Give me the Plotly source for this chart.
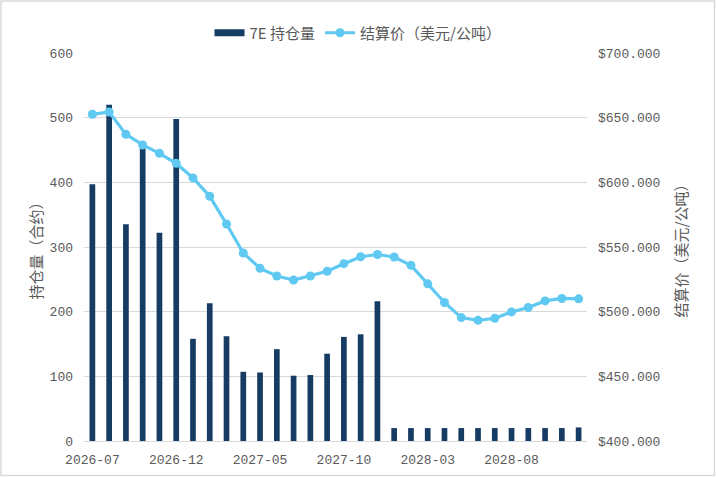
import plotly.graph_objects as go

months = ["2026-07", "2026-08", "2026-09", "2026-10", "2026-11", "2026-12",
          "2027-01", "2027-02", "2027-03", "2027-04", "2027-05", "2027-06",
          "2027-07", "2027-08", "2027-09", "2027-10", "2027-11", "2027-12",
          "2028-01", "2028-02", "2028-03", "2028-04", "2028-05", "2028-06",
          "2028-07", "2028-08", "2028-09", "2028-10", "2028-11", "2028-12"]

open_interest = [397, 520, 335, 453, 322, 498, 158, 213, 162, 107, 106, 142,
                 101, 102, 135, 161, 165, 216, 20, 20, 20, 20, 20, 20,
                 20, 20, 20, 20, 20, 21]

settle_price = [652.6, 654.4, 637.1, 628.9, 622.4, 614.7, 603.4, 589.2, 567.8, 545.4,
                533.5, 527.6, 524.5, 527.6, 531.2, 537.1, 542.5, 544.2, 542.3, 535.8,
                521.5, 507.1, 495.4, 493.3, 494.9, 499.8, 503.2, 508.3, 510.2, 509.9]

tick_labels = ["2026-07", "2026-12", "2027-05", "2027-10", "2028-03", "2028-08"]

W, H = 716, 477
ML, MR, MT, MB = 84, 129, 53, 36

num_font = "Liberation Mono, DejaVu Sans Mono, monospace"
cjk_font = "Noto Sans CJK SC, Noto Sans, sans-serif"
grey = "#595959"
navy = "#173c63"
sky = "#5fc9f2"

fig = go.Figure()
fig.add_trace(go.Bar(
    x=months, y=open_interest, name="7E 持仓量",
    marker=dict(color=navy, line=dict(width=0)),
    width=0.34, yaxis="y", showlegend=False, legendgroup="oi",
))
# legend proxy so the bar entry shows as a wide flat swatch
fig.add_trace(go.Scatter(
    x=[None], y=[None], name="7E 持仓量", mode="lines",
    line=dict(color=navy, width=7), legendgroup="oi", yaxis="y",
))
fig.add_trace(go.Scatter(
    x=months, y=settle_price, name="结算价（美元/公吨）",
    mode="lines+markers",
    line=dict(color=sky, width=3.2),
    marker=dict(color=sky, size=9),
    yaxis="y2",
))

pw = W - ML - MR
ph = H - MT - MB
fig.add_shape(type="rect", xref="paper", yref="paper",
              x0=-(ML - 1) / pw, x1=1 + (MR - 1.5) / pw,
              y0=-(MB - 1.5) / ph, y1=1 + (MT - 1) / ph,
              line=dict(color="#d9d9d9", width=1.5), layer="below")

fig.update_layout(
    width=W, height=H,
    margin=dict(l=ML, r=MR, t=MT, b=MB, autoexpand=False),
    paper_bgcolor="white", plot_bgcolor="white",
    font=dict(family=num_font, size=13, color=grey),
    bargap=0.6,
    showlegend=True,
    legend=dict(orientation="h", xref="container", yref="container",
                x=0.5, xanchor="center", y=1 - 33 / H, yanchor="middle",
                bgcolor="rgba(0,0,0,0)",
                font=dict(family=cjk_font, size=15, color=grey),
                itemwidth=30, tracegroupgap=0),
    xaxis=dict(type="category", tickmode="array", tickvals=tick_labels,
               ticktext=tick_labels, showgrid=False, showline=True,
               linecolor="#d9d9d9", linewidth=1, ticks="", automargin=False,
               range=[-0.5, len(months) - 0.5], ticklabelstandoff=6,
               tickfont=dict(family=num_font, size=13, color=grey)),
    yaxis=dict(range=[0, 600], dtick=100, showgrid=True, gridcolor="#d9d9d9",
               gridwidth=1, zeroline=False, showline=False, ticks="",
               ticklabelstandoff=10, automargin=False,
               tickfont=dict(family=num_font, size=13, color=grey),
               title=dict(text="持仓量（合约）", standoff=3,
                          font=dict(family=cjk_font, size=15, color=grey))),
    yaxis2=dict(range=[400, 700], dtick=50, overlaying="y", side="right",
                showgrid=False, zeroline=False, showline=False, ticks="",
                tickprefix="$", tickformat=".3f", ticklabelstandoff=10,
                automargin=False,
                tickfont=dict(family=num_font, size=13, color=grey),
                title=dict(text="结算价（美元/公吨）", standoff=17,
                           font=dict(family=cjk_font, size=15, color=grey))),
)

fig.write_html("out.html", config={"displayModeBar": False},
               post_script="document.body.style.margin='0';document.body.style.overflow='hidden';")
